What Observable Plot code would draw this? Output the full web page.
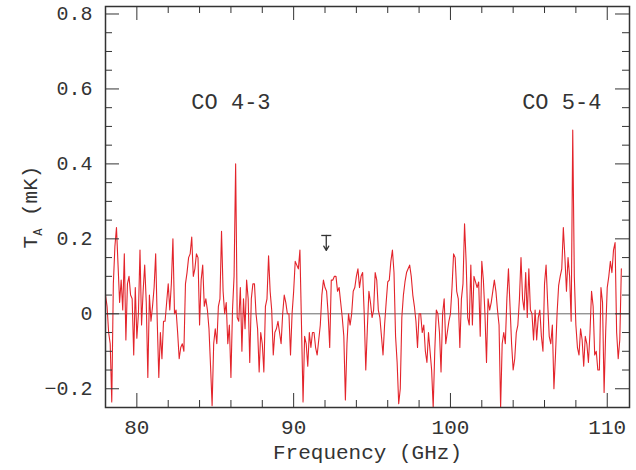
<!DOCTYPE html>
<html><head><meta charset="utf-8">
<script src="https://cdn.jsdelivr.net/npm/d3@7"></script>
<script src="https://cdn.jsdelivr.net/npm/@observablehq/plot@0.6"></script>
<style>body{margin:0;background:#fff}</style>
</head><body><div id="chart"></div>
<script>
// Frequency channels (GHz)
const freq = [
78.0,78.1,78.2,78.3,78.4,78.5,78.6,78.7,78.8,78.9,
79.0,79.1,79.2,79.3,79.4,79.5,79.6,79.7,79.8,79.9,
80.0,80.1,80.2,80.3,80.4,80.5,80.6,80.7,80.8,80.9,
81.0,81.1,81.2,81.3,81.4,81.5,81.6,81.7,81.8,81.9,
82.0,82.1,82.2,82.3,82.4,82.5,82.6,82.7,82.8,82.9,
83.0,83.1,83.2,83.3,83.4,83.5,83.6,83.7,83.8,83.9,
84.0,84.1,84.2,84.3,84.4,84.5,84.6,84.7,84.8,84.9,
85.0,85.1,85.2,85.3,85.4,85.5,85.6,85.7,85.8,85.9,
86.0,86.1,86.2,86.3,86.4,86.5,86.6,86.7,86.8,86.9,
87.0,87.1,87.2,87.3,87.4,87.5,87.6,87.7,87.8,87.9,
88.0,88.1,88.2,88.3,88.4,88.5,88.6,88.7,88.8,88.9,
89.0,89.1,89.2,89.3,89.4,89.5,89.6,89.7,89.8,89.9,
90.0,90.1,90.2,90.3,90.4,90.5,90.6,90.7,90.8,90.9,
91.0,91.1,91.2,91.3,91.4,91.5,91.6,91.7,91.8,91.9,
92.0,92.1,92.2,92.3,92.4,92.5,92.6,92.7,92.8,92.9,
93.0,93.1,93.2,93.3,93.4,93.5,93.6,93.7,93.8,93.9,
94.0,94.1,94.2,94.3,94.4,94.5,94.6,94.7,94.8,94.9,
95.0,95.1,95.2,95.3,95.4,95.5,95.6,95.7,95.8,95.9,
96.0,96.1,96.2,96.3,96.4,96.5,96.6,96.7,96.8,96.9,
97.0,97.1,97.2,97.3,97.4,97.5,97.6,97.7,97.8,97.9,
98.0,98.1,98.2,98.3,98.4,98.5,98.6,98.7,98.8,98.9,
99.0,99.1,99.2,99.3,99.4,99.5,99.6,99.7,99.8,99.9,
100.0,100.1,100.2,100.3,100.4,100.5,100.6,100.7,100.8,100.9,
101.0,101.1,101.2,101.3,101.4,101.5,101.6,101.7,101.8,101.9,
102.0,102.1,102.2,102.3,102.4,102.5,102.6,102.7,102.8,102.9,
103.0,103.1,103.2,103.3,103.4,103.5,103.6,103.7,103.8,103.9,
104.0,104.1,104.2,104.3,104.4,104.5,104.6,104.7,104.8,104.9,
105.0,105.1,105.2,105.3,105.4,105.5,105.6,105.7,105.8,105.9,
106.0,106.1,106.2,106.3,106.4,106.5,106.6,106.7,106.8,106.9,
107.0,107.1,107.2,107.3,107.4,107.5,107.6,107.7,107.8,107.9,
108.0,108.1,108.2,108.3,108.4,108.5,108.6,108.7,108.8,108.9,
109.0,109.1,109.2,109.3,109.4,109.5,109.6,109.7,109.8,109.9,
110.0,110.1,110.2,110.3,110.4,110.5,110.6,110.7,110.8,110.9
];
// Antenna temperature T_A (mK)
const tempA = [
0.05,0.02,-0.05,-0.08,-0.235,0.08,0.18,0.23,0.13,0.03,
0.09,0.01,0.16,-0.07,0.08,0.10,0.05,0.04,-0.11,0.07,
-0.065,0.0,0.17,-0.03,0.06,0.13,0.03,-0.17,0.05,-0.02,
0.02,0.07,0.16,-0.02,-0.17,-0.05,-0.12,-0.02,-0.02,0.03,
0.08,0.01,0.08,0.20,0.0,0.01,-0.05,-0.12,-0.09,-0.08,
-0.1,0.08,0.11,0.15,0.16,0.205,0.10,0.12,0.16,0.15,
-0.03,0.09,0.13,0.02,0.04,0.01,-0.04,-0.14,
-0.245,-0.08,-0.04,-0.08,0.02,0.04,0.22,0.06,0.0,0.03,
-0.08,-0.03,-0.17,0.01,0.10,0.40,-0.01,-0.02,0.07,-0.1,
0.04,-0.04,0.09,0.04,-0.13,0.04,0.08,0.08,0.0,-0.04,
-0.155,-0.05,-0.08,-0.155,0.02,0.04,0.155,0.06,0.01,-0.11,
-0.05,-0.04,-0.02,-0.05,-0.08,0.0,0.05,0.03,0.0,0.0,
-0.11,0.0,0.06,0.14,0.13,0.12,0.17,-0.03,-0.235,-0.06,
-0.08,-0.14,-0.05,-0.09,-0.05,
-0.05,-0.09,-0.11,-0.07,-0.03,0.05,0.09,0.07,0.06,0.0,
-0.09,0.09,0.09,0.10,0.10,0.06,0.07,0.03,-0.01,-0.06,
-0.23,-0.08,0.0,-0.03,0.0,0.06,0.07,0.10,0.12,0.07,
0.10,0.11,0.0,-0.15,-0.04,0.06,0.03,-0.01,0.01,0.11,
0.09,0.01,-0.01,-0.06,-0.11,-0.03,0.03,0.085,0.09,0.14,
0.17,0.11,-0.06,-0.13,-0.24,-0.2,-0.01,0.05,0.085,0.11,
0.12,0.13,0.1,0.05,0.02,-0.02,-0.09,
0.0,0.0,-0.05,-0.03,-0.1,-0.13,-0.05,-0.1,-0.15,-0.25,
-0.1,0.01,0.0,-0.05,-0.155,0.0,0.04,-0.08,-0.05,-0.02,
0.0,0.07,0.16,0.15,0.06,0.04,-0.09,0.04,0.08,0.24,
0.14,-0.01,-0.03,0.13,-0.03,0.1,0.085,0.07,0.085,-0.06,
0.14,0.09,0.0,-0.13,0.04,0.01,0.03,0.06,0.09,0.06,
0.01,-0.03,-0.25,-0.08,-0.05,-0.08,0.04,0.12,0.02,-0.08,
-0.15,-0.12,-0.05,-0.03,0.04,0.15,
0.04,0.01,0.11,-0.01,0.12,0.01,0.0,-0.07,0.01,-0.07,
-0.01,0.01,-0.06,-0.1,0.08,0.13,0.03,-0.06,-0.08,-0.03,
-0.2,-0.11,0.0,0.075,0.1,0.12,0.23,0.15,0.06,0.15,
0.1,-0.02,0.49,0.1,-0.03,-0.09,-0.11,-0.04,-0.07,-0.14,
-0.06,-0.08,-0.13,-0.05,0.06,0.02,-0.11,-0.1,-0.15,-0.15,
0.07,0.03,-0.21,-0.05,0.07,0.1,0.14,0.11,0.17,0.19,
-0.05,-0.12,-0.07,0.12
];
const xMajor = [80, 90, 100, 110];
const xMinor = [82, 84, 86, 88, 92, 94, 96, 98, 102, 104, 106, 108];
const yMajor = [-0.2, 0, 0.2, 0.4, 0.6, 0.8];
const yMinor = [-0.15, -0.1, -0.05, 0.05, 0.1, 0.15, 0.25, 0.3, 0.35, 0.45, 0.5, 0.55, 0.65, 0.7, 0.75];
const lineNames = ["CO 4-3", "CO 5-4"];
const lineNameFreq = [86.0, 107.1];
const lineNameT = [0.566, 0.566];
const limitFreq = [92.08];
const limitTop = [0.209];
const limitTip = [0.169];

const W = 636, H = 470, mL = 105, mR = 7, mT = 6, mB = 63;
const pw = W - mL - mR, ph = H - mT - mB;
const MAJ = 14, MIN = 7;
const ink = "#333";
const font = "'Liberation Mono', 'Courier New', monospace";

const spectrum = freq.map((f, i) => ({f, t: tempA[i]}));
const limits = limitFreq.map((f, i) => ({f, top: limitTop[i], tip: limitTip[i]}));
const names = lineNames.map((n, i) => ({n, f: lineNameFreq[i], t: lineNameT[i]}));

const chart = Plot.plot({
  width: W, height: H,
  marginLeft: mL, marginRight: mR, marginTop: mT, marginBottom: mB,
  style: {fontFamily: font, fontSize: "20px", color: ink, background: "#fff"},
  x: {domain: [78, 111.42]},
  y: {domain: [-0.25, 0.82]},
  marks: [
    Plot.ruleY([0], {stroke: "#444", strokeWidth: 0.8}),
    Plot.line(spectrum, {x: "f", y: "t", stroke: "#e3242b", strokeWidth: 1.1, clip: true}),
    // inward ticks, all four sides
    Plot.tickX(xMajor, {x: d => d, insetTop: ph - MAJ, stroke: ink}),
    Plot.tickX(xMajor, {x: d => d, insetBottom: ph - MAJ, stroke: ink}),
    Plot.tickX(xMinor, {x: d => d, insetTop: ph - MIN, stroke: ink}),
    Plot.tickX(xMinor, {x: d => d, insetBottom: ph - MIN, stroke: ink}),
    Plot.tickY(yMajor, {y: d => d, insetRight: pw - MAJ, stroke: ink}),
    Plot.tickY(yMajor, {y: d => d, insetLeft: pw - MAJ, stroke: ink}),
    Plot.tickY(yMinor, {y: d => d, insetRight: pw - MIN, stroke: ink}),
    Plot.tickY(yMinor, {y: d => d, insetLeft: pw - MIN, stroke: ink}),
    Plot.frame({stroke: ink, strokeWidth: 1.5}),
    Plot.axisX({ticks: xMajor, tickSize: 0, tickPadding: 12, fontSize: 21, label: null, tickFormat: d => String(d)}),
    Plot.axisY({ticks: yMajor, tickSize: 0, tickPadding: 13, fontSize: 20, label: null,
      tickFormat: d => d === 0 ? "0" : (d < 0 ? "\u2212" + (-d).toFixed(1) : d.toFixed(1))}),
    Plot.text(["Frequency (GHz)"], {text: d => d, frameAnchor: "bottom", dy: 51, fontSize: 21, fill: ink}),
    Plot.text(names, {x: "f", y: "t", text: "n", fontSize: 22, fill: ink}),
    // upper-limit marker
    Plot.link(limits, {x1: d => d.f - 0.32, x2: d => d.f + 0.32, y1: "top", y2: "top", stroke: ink, strokeWidth: 1.3}),
    Plot.arrow(limits, {x1: "f", x2: "f", y1: "top", y2: "tip", stroke: ink, strokeWidth: 1.3, headLength: 7})
  ]
});

const svg = d3.select(chart);
const lab = svg.append("text")
  .attr("transform", "translate(37,207) rotate(-90)")
  .attr("text-anchor", "middle")
  .attr("font-family", font)
  .attr("font-size", 21)
  .attr("fill", ink);
lab.append("tspan").text("T");
lab.append("tspan").attr("font-size", 12).attr("dy", 5).text("A");
lab.append("tspan").attr("dy", -5).text(" (mK)");

document.getElementById("chart").appendChild(chart);
</script>
</body></html>
